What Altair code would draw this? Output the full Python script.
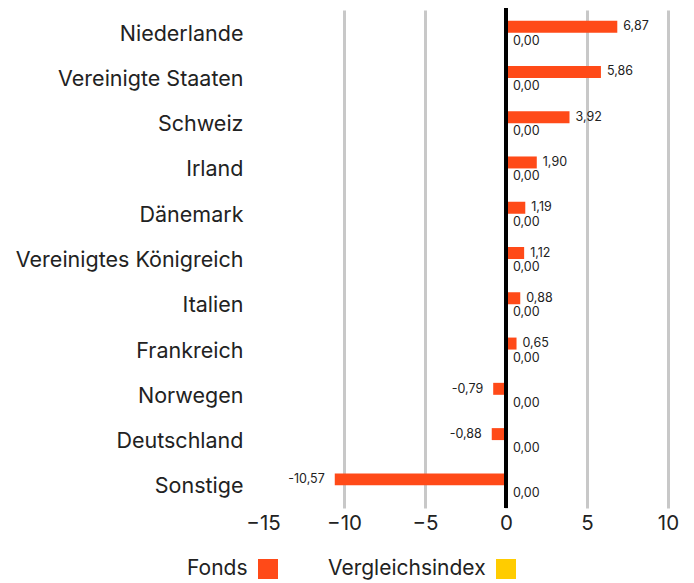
import altair as alt
import pandas as pd

countries = ["Niederlande", "Vereinigte Staaten", "Schweiz", "Irland", "Dänemark",
             "Vereinigtes Königreich", "Italien", "Frankreich", "Norwegen",
             "Deutschland", "Sonstige"]
fonds = [6.87, 5.86, 3.92, 1.90, 1.19, 1.12, 0.88, 0.65, -0.79, -0.88, -10.57]
vergleich = [0.00] * 11
series = ["Fonds", "Vergleichsindex"]
colors = ["#FF4A18", "#FFCC00"]
x_ticks = [-15, -10, -5, 0, 5, 10]

rows = []
for c, f, v in zip(countries, fonds, vergleich):
    rows.append({"land": c, "serie": "Fonds", "wert": f})
    rows.append({"land": c, "serie": "Vergleichsindex", "wert": v})
df = pd.DataFrame(rows)
df["label"] = df["wert"].map(lambda v: f"{v:.2f}".replace(".", ","))

FONT = "Inter"
W, H = 405, 498

y = alt.Y("land:N", sort=countries, title=None,
          scale=alt.Scale(paddingInner=0, paddingOuter=0),
          axis=alt.Axis(labelFontSize=21.5, labelColor="#222222", labelPadding=20,
                        labelOffset=2, labelLimit=400, ticks=False, domain=False,
                        labelFont=FONT, grid=False))
x = alt.X("wert:Q", title=None,
          scale=alt.Scale(domain=[-15, 10], nice=False, zero=False),
          axis=alt.Axis(values=x_ticks, grid=True,
                        gridColor=alt.condition("datum.value == -15", alt.value("transparent"), alt.value("#c8c8c8")),
                        gridWidth=3, ticks=False, domain=False, labelFont=FONT,
                        labelFontSize=20.5, labelColor="#222222", labelPadding=5,
                        labelFlush=False, format="d"))
yoff = alt.YOffset("serie:N", sort=series,
                   scale=alt.Scale(domain=series, paddingOuter=0.89, paddingInner=0))


def legend_for(name, lx):
    return alt.Legend(orient="none", legendX=lx, legendY=549, title=name,
                      titleOrient="left", titleFontSize=21, titleFont=FONT,
                      titleFontWeight="normal", titleColor="#222222", titlePadding=10,
                      titleBaseline="middle",
                      symbolType="square", symbolSize=400, symbolStrokeWidth=0,
                      labelExpr="''", labelFontSize=1, labelOffset=0, padding=0)


base = alt.Chart(df)

bars_f = base.transform_filter(alt.datum.serie == series[0]).mark_bar().encode(
    y=y, x=x, yOffset=yoff,
    color=alt.Color("serie:N", scale=alt.Scale(domain=[series[0]], range=[colors[0]]),
                    legend=legend_for(series[0], -76)))
bars_v = base.transform_filter(alt.datum.serie == series[1]).mark_bar().encode(
    y=y, x=x, yOffset=yoff,
    fill=alt.Fill("serie:N", scale=alt.Scale(domain=[series[1]], range=[colors[1]]),
                  legend=legend_for(series[1], 65)))

zero_rule = alt.Chart(df).mark_rule(color="black", strokeWidth=4).encode(
    x=alt.X(datum=0), y=alt.value(-3), y2=alt.value(H))

pos_lbl = base.transform_filter(
    (alt.datum.serie == "Fonds") & (alt.datum.wert >= 0)
).mark_text(align="left", baseline="middle", dx=6, dy=-0.5, fontSize=12.5, font=FONT, color="#222222").encode(
    y=alt.Y("land:N", sort=countries), x="wert:Q", yOffset=yoff, text="label:N")

neg_lbl = base.transform_filter(
    (alt.datum.serie == "Fonds") & (alt.datum.wert < 0)
).mark_text(align="right", baseline="middle", dx=-10, dy=0, fontSize=12.5, font=FONT, color="#222222").encode(
    y=alt.Y("land:N", sort=countries), x="wert:Q", yOffset=yoff, text="label:N")

idx_lbl = base.transform_filter(
    alt.datum.serie == "Vergleichsindex"
).mark_text(align="left", baseline="middle", dx=7, dy=2, fontSize=12.5, font=FONT, color="#222222").encode(
    y=alt.Y("land:N", sort=countries), x="wert:Q", yOffset=yoff, text="label:N")

chart = alt.layer(bars_f, bars_v, zero_rule, pos_lbl, neg_lbl, idx_lbl).properties(
    width=W, height=H,
    autosize=alt.AutoSizeParams(type="none"),
    padding={"left": 255, "top": 2, "right": 18, "bottom": 75},
).configure(font=FONT).configure_view(strokeWidth=0, stroke="transparent")

chart.save("out.html", embed_options={"renderer": "svg", "actions": False})
